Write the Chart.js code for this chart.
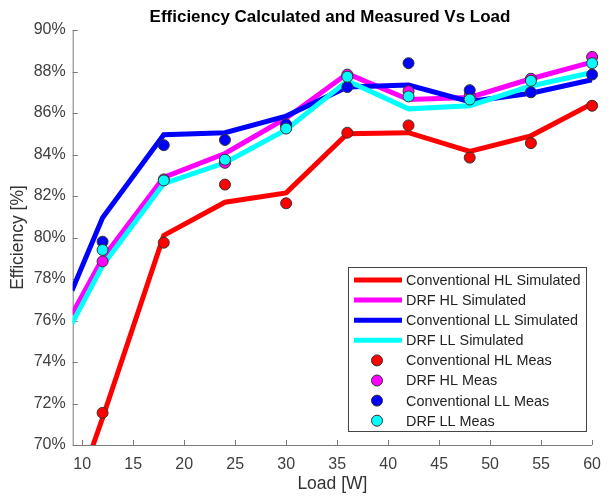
<!DOCTYPE html>
<html>
<head>
<meta charset="utf-8">
<script src="https://cdn.jsdelivr.net/npm/chart.js@4.4.0/dist/chart.umd.min.js"></script>
<style>
body{margin:0;background:#fff;}
#wrap{width:611px;height:497px;}
</style>
</head>
<body>
<div id="wrap"><canvas id="effChart"></canvas></div>
<script>
// load points for the simulated curves and the measurements
const loadSim = [9, 12, 18, 24, 30, 36, 42, 48, 54, 60];
const loadMeas = [12, 18, 24, 30, 36, 42, 48, 54, 60];

// simulated efficiency [%]
const convHLSim = [67.1, 71.3, 80.1, 81.7, 82.15, 85.0, 85.05, 84.15, 84.9, 86.45];
const drfHLSim  = [76.3, 79.0, 82.9, 84.05, 85.75, 87.9, 86.65, 86.75, 87.65, 88.45];
const convLLSim = [77.45, 80.95, 84.95, 85.05, 85.85, 87.25, 87.35, 86.55, 86.95, 87.6];
const drfLLSim  = [75.85, 78.65, 82.6, 83.6, 85.2, 87.55, 86.2, 86.35, 87.3, 87.95];

// measured efficiency [%]
const convHLMeas = [71.55, 79.75, 82.55, 81.65, 85.05, 85.4, 83.85, 84.55, 86.35];
const drfHLMeas  = [78.85, 82.8, 83.6, 85.4, 87.85, 87.05, 86.85, 87.65, 88.7];
const convLLMeas = [79.8, 84.45, 84.7, 85.45, 87.25, 88.4, 87.1, 87.0, 87.85];
const drfLLMeas  = [79.4, 82.75, 83.75, 85.25, 87.75, 86.8, 86.65, 87.55, 88.4];

const xTicks = [10, 15, 20, 25, 30, 35, 40, 45, 50, 55, 60];
const yTicks = [70, 72, 74, 76, 78, 80, 82, 84, 86, 88, 90];

const seriesNames = ['Conventional HL Simulated', 'DRF HL Simulated', 'Conventional LL Simulated', 'DRF LL Simulated',
    'Conventional HL Meas', 'DRF HL Meas', 'Conventional LL Meas', 'DRF LL Meas'];
const seriesColors = ['#ff0000', '#ff00ff', '#0000ff', '#00ffff'];

const FONT = '"Liberation Sans", Arial, sans-serif';

function toPoints(xs, ys){
    return xs.map((x, i) => ({x: x, y: ys[i]}));
}

let datasets = [];
[convHLSim, drfHLSim, convLLSim, drfLLSim].forEach((ys, i) => {
    datasets.push({label: seriesNames[i], data: toPoints(loadSim, ys), borderColor: seriesColors[i],
        backgroundColor: seriesColors[i], borderWidth: 5, pointRadius: 0, tension: 0, order: 20 - i});
});
[convHLMeas, drfHLMeas, convLLMeas, drfLLMeas].forEach((ys, i) => {
    // markers are not clipped at the plot edge (the ones at 60 W sit on it)
    datasets.push({label: seriesNames[i + 4], data: toPoints(loadMeas, ys), showLine: false, clip: 8,
        pointRadius: 5.5, pointBorderWidth: 1, pointBorderColor: '#333333',
        pointBackgroundColor: seriesColors[i], borderColor: '#333333', backgroundColor: seriesColors[i], order: 10 - i});
});

// matlab style axes: lines on left/bottom, ticks pointing inward
const matlabAxes = {
    id: 'matlabAxes',
    beforeDatasetsDraw(chart){
        const ctx = chart.ctx, a = chart.chartArea;
        const xs = chart.scales.x, ys = chart.scales.y;
        ctx.save();
        ctx.strokeStyle = '#7a7a7a';
        ctx.lineWidth = 1;
        ctx.beginPath();
        ctx.moveTo(a.left + 0.5, a.top);
        ctx.lineTo(a.left + 0.5, a.bottom + 0.5);
        ctx.lineTo(a.right, a.bottom + 0.5);
        yTicks.forEach(v => {
            let y = Math.round(ys.getPixelForValue(v)) + 0.5;
            ctx.moveTo(a.left, y); ctx.lineTo(a.left + 5, y);
        });
        xTicks.forEach(v => {
            let x = Math.round(xs.getPixelForValue(v)) + 0.5;
            ctx.moveTo(x, a.bottom); ctx.lineTo(x, a.bottom - 5);
        });
        ctx.stroke();
        ctx.restore();
    },
    afterDraw(chart){
        const ctx = chart.ctx, a = chart.chartArea;
        ctx.save();
        // title
        ctx.fillStyle = '#000';
        ctx.font = 'bold 17px ' + FONT;
        ctx.textAlign = 'center';
        ctx.textBaseline = 'middle';
        ctx.fillText('Efficiency Calculated and Measured Vs Load', 330, 17);
        // axis labels
        ctx.fillStyle = '#333';
        ctx.font = '17.5px ' + FONT;
        ctx.fillText('Load [W]', (a.left + a.right) / 2, 484);
        ctx.translate(18, (a.top + a.bottom) / 2);
        ctx.rotate(-Math.PI / 2);
        ctx.fillText('Efficiency [%]', 0, 0);
        ctx.restore();

        // legend box
        ctx.save();
        const bx = 348.5, by = 267.5, bw = 238, bh = 164;
        ctx.fillStyle = '#fff';
        ctx.fillRect(bx, by, bw, bh);
        ctx.strokeStyle = '#444';
        ctx.lineWidth = 1;
        ctx.strokeRect(bx, by, bw, bh);
        ctx.font = '14.4px ' + FONT;
        ctx.textBaseline = 'middle';
        ctx.textAlign = 'left';
        chart.data.datasets.forEach((ds, i) => {
            let y = 280 + i * 20.1;
            if (ds.showLine === false){
                ctx.beginPath();
                ctx.arc(377, y, ds.pointRadius, 0, Math.PI * 2);
                ctx.fillStyle = ds.pointBackgroundColor;
                ctx.fill();
                ctx.strokeStyle = ds.pointBorderColor;
                ctx.stroke();
            } else {
                ctx.beginPath();
                ctx.moveTo(354, y); ctx.lineTo(402, y);
                ctx.strokeStyle = ds.borderColor;
                ctx.lineWidth = 5;
                ctx.stroke();
                ctx.lineWidth = 1;
            }
            ctx.fillStyle = '#222';
            ctx.fillText(ds.label, 406, y + 1);
        });
        ctx.restore();
    }
};

const ctx = document.getElementById('effChart').getContext('2d');
const myChart = new Chart(ctx, {
    type: 'line',
    data: {datasets: datasets},
    options: {
        responsive: true,
        maintainAspectRatio: false,
        animation: false,
        layout: {padding: {top: 30, right: 11, left: 0, bottom: 0}},
        plugins: {legend: {display: false}, tooltip: {enabled: false}},
        scales: {
            x: {
                type: 'linear', min: 9.07, max: 60,
                afterBuildTicks: s => { s.ticks = xTicks.map(v => ({value: v})); },
                afterFit: s => { s.height = 52; },
                grid: {display: false, drawTicks: false},
                border: {display: false},
                ticks: {padding: 10, color: '#404040', font: {size: 16, family: FONT}, maxRotation: 0, autoSkip: false}
            },
            y: {
                type: 'linear', min: 70, max: 90,
                afterBuildTicks: s => { s.ticks = yTicks.map(v => ({value: v})); },
                afterFit: s => { s.width = 72.7; },
                grid: {display: false, drawTicks: false},
                border: {display: false},
                ticks: {padding: 7, color: '#404040', font: {size: 16, family: FONT}, callback: v => v + '%'}
            }
        }
    },
    plugins: [matlabAxes]
});
</script>
</body>
</html>
